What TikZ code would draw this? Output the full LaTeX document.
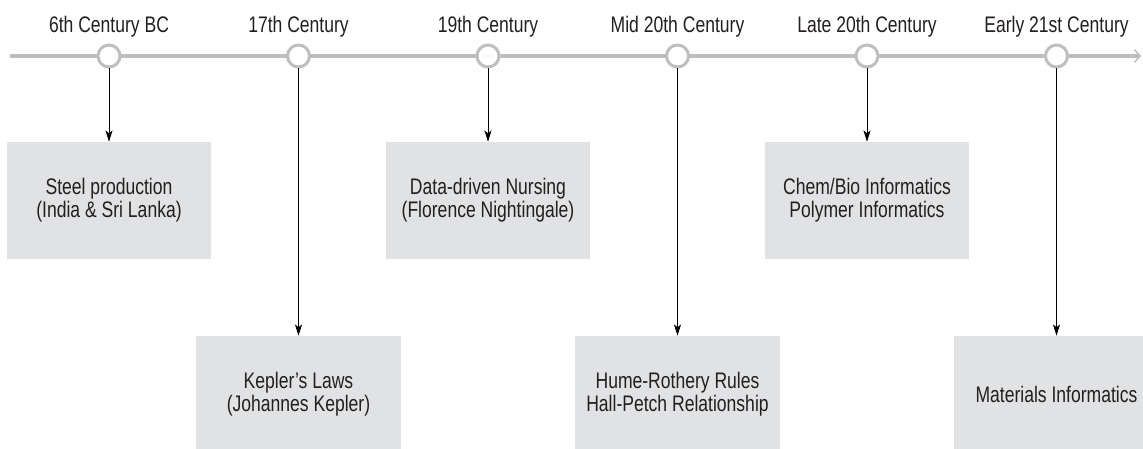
\documentclass[tikz,border=0pt]{standalone}
\usepackage{fontspec}
\setmainfont{Liberation Sans}[FakeStretch=0.78]
\usetikzlibrary{arrows.meta,positioning}
\definecolor{axisgray}{RGB}{190,190,190}
\definecolor{boxgray}{RGB}{225,226,228}
\definecolor{inkgray}{RGB}{35,31,32}

\begin{document}
\begin{tikzpicture}[x=0.025cm,y=-0.025cm,
axis/.style={
% The line:
line width=2.8pt,
draw=axisgray,
% The tip:
-{Straight Barb[length=4pt,width=9pt,line width=1pt]}
},
yeardot/.style={
% The shape:
circle,
% The size:
minimum size=0.55cm, inner sep=0pt,
% The border:
line width=2.1pt,
draw=axisgray,
% The filling:
fill=white
},
era/.style={
% Font
font=\fontsize{16}{16.5}\selectfont,
text=inkgray, anchor=base, inner sep=0pt
},
event/.style={
% The shape:
rectangle,
% The size:
minimum width=5.1cm, minimum height=2.925cm,
% The filling:
fill=boxgray, draw=none,
% Font
font=\fontsize{16}{16.5}\selectfont,
text=inkgray, align=center
},
link/.style={
line width=0.6pt, draw=black,
-{Stealth[length=8pt,width=5pt,inset=2pt]}
}]

\useasboundingbox (0,0) rectangle (1143,448);

\coordinate (start) at (10,56);
\coordinate (end) at (1141,56);
\draw [axis] (start) -- (end);

\node (t1) [yeardot] at (109,56) {};
\node (t2) [yeardot] at (298.5,56) {};
\node (t3) [yeardot] at (488,56) {};
\node (t4) [yeardot] at (677.5,56) {};
\node (t5) [yeardot] at (867,56) {};
\node (t6) [yeardot] at (1056.5,56) {};

\node (l1) [era] at (109,32) {6th Century BC};
\node (l2) [era] at (298.5,32) {17th Century};
\node (l3) [era] at (488,32) {19th Century};
\node (l4) [era] at (677.5,32) {Mid 20th Century};
\node (l5) [era] at (867,32) {Late 20th Century};
\node (l6) [era] at (1056.5,32) {Early 21st Century};

\node (e1) [event] at (109,200.5) {Steel production\\(India \& Sri Lanka)};
\node (e2) [event] at (298.5,394.5) {Kepler’s Laws\\(Johannes Kepler)};
\node (e3) [event] at (488,200.5) {Data-driven Nursing\\(Florence Nightingale)};
\node (e4) [event] at (677.5,394.5) {Hume-Rothery Rules\\Hall-Petch Relationship};
\node (e5) [event] at (867,200.5) {Chem/Bio Informatics\\Polymer Informatics};
\node (e6) [event] at (1056.5,394.5) {Materials Informatics};

\path (t1) edge[link] (e1);
\path (t2) edge[link] (e2);
\path (t3) edge[link] (e3);
\path (t4) edge[link] (e4);
\path (t5) edge[link] (e5);
\path (t6) edge[link] (e6);
\end{tikzpicture}
\end{document}
